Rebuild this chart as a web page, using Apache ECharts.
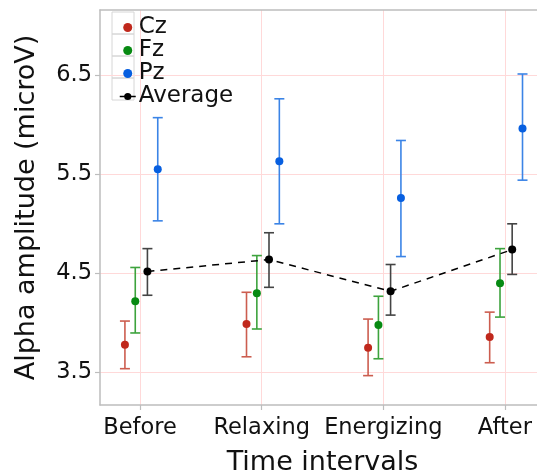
<!DOCTYPE html>
<html>
<head>
<meta charset="utf-8">
<script src="https://cdn.jsdelivr.net/npm/echarts@6/dist/echarts.min.js"></script>
<style>html,body{margin:0;padding:0;background:#fff}#c{width:537px;height:474px}</style>
</head>
<body>
<div id="c"></div>
<script>
const categories = ['Before', 'Relaxing', 'Energizing', 'After'];
const czMean = [3.78, 3.99, 3.75, 3.86];
const czLow  = [3.54, 3.66, 3.47, 3.60];
const czHigh = [4.02, 4.31, 4.04, 4.11];
const fzMean = [4.22, 4.30, 3.98, 4.40];
const fzLow  = [3.90, 3.94, 3.64, 4.06];
const fzHigh = [4.56, 4.68, 4.27, 4.75];
const pzMean = [5.55, 5.63, 5.26, 5.96];
const pzLow  = [5.03, 5.00, 4.67, 5.44];
const pzHigh = [6.07, 6.26, 5.84, 6.51];
const avgMean = [4.52, 4.64, 4.32, 4.74];
const avgLow  = [4.28, 4.36, 4.08, 4.49];
const avgHigh = [4.75, 4.91, 4.59, 5.00];
const yTicks = [3.5, 4.5, 5.5, 6.5];

// layout constants (dodge offsets within each category)
const OFF = { Cz: -0.125, Fz: -0.04, Avg: 0.06, Pz: 0.145 };
const FONT = 'DejaVu Sans';

function pts(mean, off) { return mean.map((v, i) => [i + off, v]); }
function errs(lo, hi, off) { return lo.map((v, i) => [i + off, v, hi[i]]); }

function errSeries(name, lo, hi, off, color) {
  return {
    name: name, type: 'custom', silent: true, z: 2,
    encode: { x: 0, y: [1, 2] },
    data: errs(lo, hi, off),
    renderItem: function (params, api) {
      const x = api.value(0);
      const p1 = api.coord([x, api.value(1)]);
      const p2 = api.coord([x, api.value(2)]);
      const w = 5;
      const st = { stroke: color, lineWidth: 1.6 };
      return {
        type: 'group', children: [
          { type: 'line', shape: { x1: p1[0], y1: p1[1], x2: p2[0], y2: p2[1] }, style: st },
          { type: 'line', shape: { x1: p1[0] - w, y1: p1[1], x2: p1[0] + w, y2: p1[1] }, style: st },
          { type: 'line', shape: { x1: p2[0] - w, y1: p2[1], x2: p2[0] + w, y2: p2[1] }, style: st }
        ]
      };
    }
  };
}

const gridColor = '#ffd9d9';
const frameColor = '#bdbdbd';
const frameLine = { show: true, onZero: false, lineStyle: { color: frameColor, width: 1.5 } };

const chart = echarts.init(document.getElementById('c'), null, { renderer: 'canvas' });
chart.setOption({
  animation: false,
  backgroundColor: '#fff',
  textStyle: { fontFamily: FONT },
  grid: { left: 100, top: 10, right: -8, bottom: 69, show: false, outerBoundsMode: 'none', containLabel: false },
  xAxis: [{
    type: 'value', min: -0.33, max: 3.33, position: 'bottom',
    name: 'Time intervals', nameLocation: 'middle', nameGap: 44,
    nameTextStyle: { fontSize: 27, color: '#111', fontFamily: FONT },
    axisLine: frameLine,
    axisTick: { show: true, inside: false, interval: 0, length: 5, lineStyle: { color: frameColor, width: 1.2 }, customValues: [0, 1, 2, 3] },
    axisLabel: { fontSize: 22.5, color: '#111', margin: 12, fontFamily: FONT, customValues: [0, 1, 2, 3],
      formatter: v => categories[Math.round(v)] },
    splitLine: { show: true, lineStyle: { color: gridColor, width: 1 } }
  }, {
    type: 'value', min: -0.33, max: 3.33, position: 'top',
    axisLine: frameLine, axisTick: { show: false }, axisLabel: { show: false }, splitLine: { show: false }
  }],
  yAxis: {
    type: 'value', min: 3.174, max: 7.155, position: 'left',
    name: 'Alpha amplitude (microV)', nameLocation: 'middle', nameGap: 60,
    nameTextStyle: { fontSize: 27, color: '#111', fontFamily: FONT },
    axisLine: frameLine,
    axisTick: { show: true, inside: false, interval: 0, length: 5, lineStyle: { color: frameColor, width: 1.2 }, customValues: yTicks },
    axisLabel: { fontSize: 22.5, color: '#111', margin: 8, fontFamily: FONT, customValues: yTicks,
      formatter: v => v.toFixed(1) },
    splitLine: { show: true, lineStyle: { color: gridColor, width: 1 } }
  },
  legend: {
    orient: 'vertical', left: 114, top: 11, itemGap: 0, itemWidth: 16, itemHeight: 9,
    textStyle: { fontSize: 23, color: '#111', fontFamily: FONT, lineHeight: 22, padding: [0, 0, 0, -2] },
    data: [
      { name: 'Cz', icon: 'circle' },
      { name: 'Fz', icon: 'circle' },
      { name: 'Pz', icon: 'circle' },
      { name: 'Average', lineStyle: { type: 'solid', width: 1.5 } }
    ]
  },
  graphic: [0, 1, 2, 3].map(i => ({
    type: 'rect', silent: true, z: 0,
    shape: { x: 112, y: 12 + i * 22, width: 22, height: 22 },
    style: { fill: 'transparent', stroke: '#d6d6d6', lineWidth: 1 }
  })),
  series: [
    errSeries('Cz_err', czLow, czHigh, OFF.Cz, '#cc5d4f'),
    errSeries('Fz_err', fzLow, fzHigh, OFF.Fz, '#3da33d'),
    errSeries('Pz_err', pzLow, pzHigh, OFF.Pz, '#3b84e6'),
    errSeries('Avg_err', avgLow, avgHigh, OFF.Avg, '#444444'),
    { name: 'Cz', type: 'scatter', symbol: 'circle', symbolSize: 8, z: 4, itemStyle: { color: '#c0281c', opacity: 1 }, data: pts(czMean, OFF.Cz) },
    { name: 'Fz', type: 'scatter', symbol: 'circle', symbolSize: 8, z: 4, itemStyle: { color: '#078a12', opacity: 1 }, data: pts(fzMean, OFF.Fz) },
    { name: 'Pz', type: 'scatter', symbol: 'circle', symbolSize: 8, z: 4, itemStyle: { color: '#075fe0', opacity: 1 }, data: pts(pzMean, OFF.Pz) },
    { name: 'Average', type: 'line', symbol: 'circle', symbolSize: 8, z: 4, showSymbol: true,
      itemStyle: { color: '#000' },
      lineStyle: { color: '#000', width: 1.5, type: [7, 6] },
      data: pts(avgMean, OFF.Avg) }
  ]
});
</script>
</body>
</html>
